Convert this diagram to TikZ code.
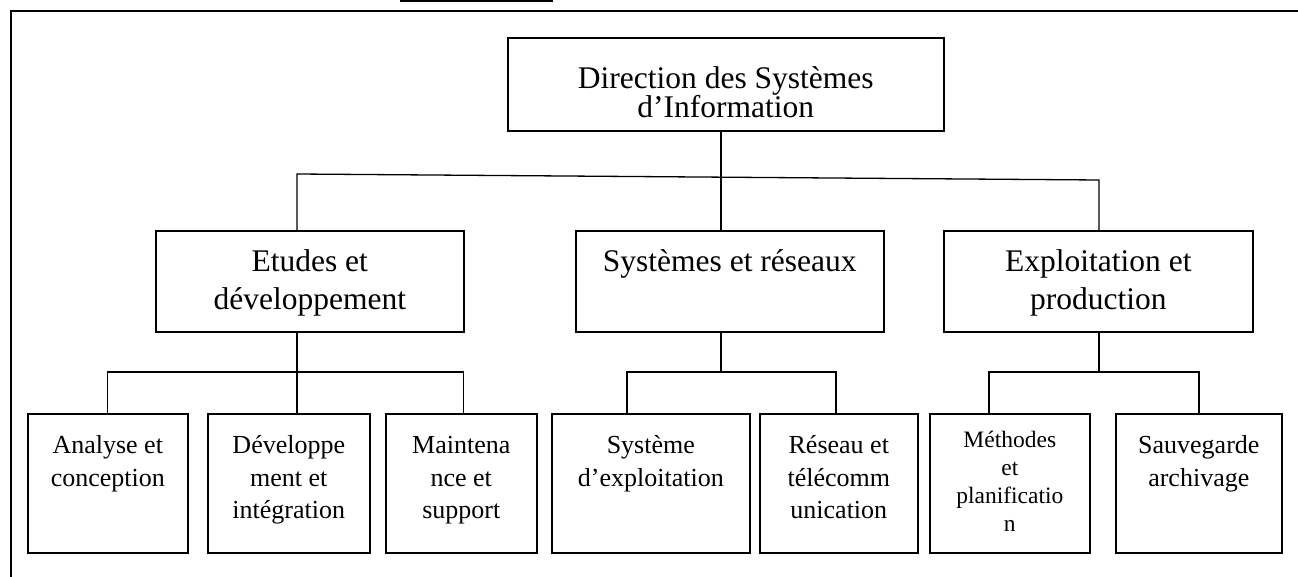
\documentclass[tikz,border=0pt]{standalone}
\usepackage{fontspec}
\setmainfont{Liberation Serif}
\usetikzlibrary{positioning,calc}

\newcommand{\boxtext}[4]{\parbox[c][#2][t]{#1}{\centering\rule{0pt}{#3}#4}}

\begin{document}
\begin{tikzpicture}[x=1pt, y=-1pt,
    box/.style={draw, line width=1.6pt, inner sep=0pt, anchor=north west},
    head/.style={font=\fontsize{31.5}{29}\selectfont},
    big/.style={font=\fontsize{31.5}{38}\selectfont},
    small/.style={font=\fontsize{26}{32.5}\selectfont},
    tiny/.style={font=\fontsize{23.5}{28}\selectfont},
    link/.style={line width=1.3pt}]
  \useasboundingbox (0,0) rectangle (1298,577);

  % frame of the page
  \draw[line width=2pt] (11,577) -- (11,11) -- (1298,11);
  \draw[line width=1.4pt] (400,1) -- (553,1);

  % level 0
  \node[box, head] at (507,37) (dsi) {\boxtext{436pt}{93pt}{51pt}{Direction des Systèmes\\d’Information}};

  % level 1
  \node[box, big] at (155,230) (ed) {\boxtext{308pt}{101pt}{41pt}{Etudes et\\développement}};
  \node[box, big] at (575,230) (sr) {\boxtext{308pt}{101pt}{41pt}{Systèmes et réseaux}};
  \node[box, big] at (943,230) (ep) {\boxtext{309pt}{101pt}{41pt}{Exploitation et\\production}};

  % level 2
  \node[box, small] at (27,413)   (ac) {\boxtext{160pt}{139pt}{40pt}{Analyse et\\conception}};
  \node[box, small] at (207,413)  (di) {\boxtext{162pt}{139pt}{40pt}{Développe\\ment et\\intégration}};
  \node[box, small] at (385,413)  (ms) {\boxtext{151pt}{139pt}{40pt}{Maintena\\nce et\\support}};
  \node[box, small] at (551,413)  (se) {\boxtext{198pt}{139pt}{40pt}{Système\\d’exploitation}};
  \node[box, small] at (759,413)  (rt) {\boxtext{158pt}{139pt}{40pt}{Réseau et\\télécomm\\unication}};
  \node[box, tiny]  at (929,413)  (mp) {\boxtext{160pt}{139pt}{34pt}{Méthodes\\et\\planificatio\\n}};
  \node[box, small] at (1115,413) (sa) {\boxtext{166pt}{139pt}{40pt}{Sauvegarde\\archivage}};

  % junctions
  \coordinate (j1) at (297,174);
  \coordinate (j2) at (721,177);
  \coordinate (j3) at (1099,180);
  \coordinate (k1) at (297,372);
  \coordinate (k2) at (721,372);
  \coordinate (k3) at (1099,372);

  % connectors
  \draw[link] (dsi.south -| j2) -- (sr.north -| j2);
  \draw[link] (ed.north -| j1) -- (j1) -- (j3) -- (ep.north -| j3);

  \draw[link] (ed.south -| k1) -- (k1);
  \draw[link] (ac.north) |- (k1) -| (ms.north -| 463.5,0);
  \draw[link] (k1) -- (di.north -| k1);

  \draw[link] (sr.south -| k2) -- (k2);
  \draw[link] (se.north -| 627,0) |- (k2) -| (rt.north -| 836,0);

  \draw[link] (ep.south -| k3) -- (k3);
  \draw[link] (mp.north -| 989,0) |- (k3) -| (sa.north -| 1199,0);
\end{tikzpicture}
\end{document}
